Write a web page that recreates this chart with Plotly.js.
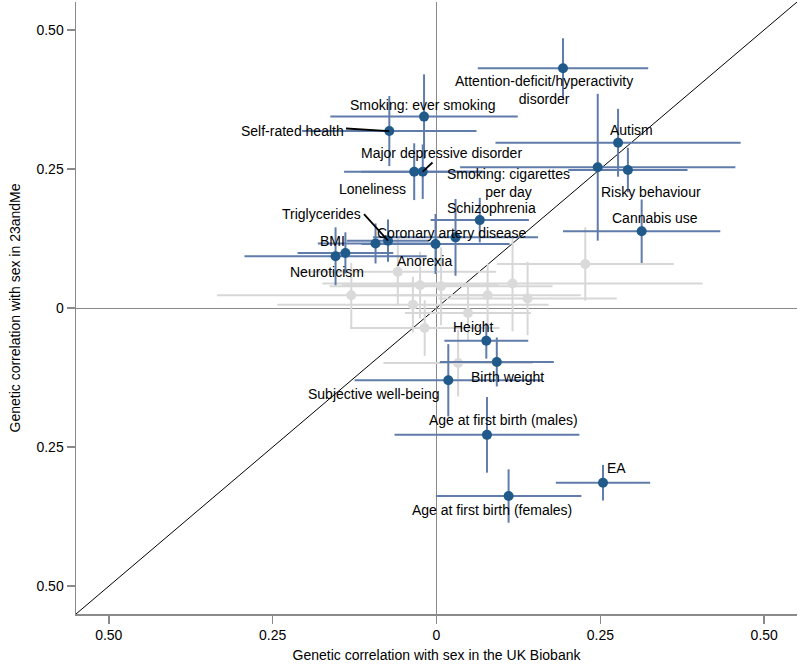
<!DOCTYPE html>
<html>
<head>
<meta charset="utf-8">
<script src="https://cdn.plot.ly/plotly-3.0.1.min.js"></script>
<style>html,body{margin:0;padding:0;background:#fff;}#chart{width:800px;height:665px;}</style>
</head>
<body>
<div id="chart"></div>
<script>
// ---- Highlighted (significant) traits ----
const traitNames = ["ADHD","Smoking: ever smoking","Self-rated health","Major depressive disorder","Loneliness",
  "Smoking: cigarettes per day","Autism","Risky behaviour","Cannabis use","Schizophrenia",
  "Coronary artery disease","Anorexia","Triglycerides","Other trait","BMI","Neuroticism",
  "Height","Birth weight","Subjective well-being","Age at first birth (males)","Age at first birth (females)","EA"];
const ukbCorr  = [0.193,-0.019,-0.072,-0.021,-0.034, 0.246,0.277,0.292,0.313,0.066, 0.029,-0.0015,-0.074,-0.093,-0.139,-0.154, 0.076,0.092,0.018,0.077,0.110,0.254];
const meCorr   = [0.431,0.344,0.318,0.245,0.245, 0.253,0.297,0.248,0.138,0.158, 0.127,0.115,0.121,0.116,0.099,0.093, -0.059,-0.097,-0.130,-0.228,-0.338,-0.314];
const ukbErr   = [0.130,0.143,0.133,0.094,0.107, 0.210,0.187,0.091,0.120,0.075, 0.126,0.113,0.063,0.088,0.073,0.139, 0.064,0.087,0.143,0.141,0.111,0.072];
const meErr    = [0.054,0.076,0.063,0.049,0.051, 0.132,0.061,0.040,0.057,0.040, 0.069,0.054,0.038,0.036,0.037,0.052, 0.032,0.044,0.065,0.068,0.048,0.032];

// ---- Non-significant traits (grey) ----
const greyUkb    = [-0.130,-0.059,-0.025,0.007,0.078,0.116,0.139,-0.036,-0.018,0.048,0.033,0.227];
const greyMe     = [0.023,0.065,0.041,0.039,0.023,0.044,0.017,0.006,-0.036,-0.009,-0.099,0.079];
const greyUkbErr = [0.205,0.150,0.120,0.170,0.142,0.290,0.136,0.207,0.114,0.096,0.114,0.135];
const greyMeErr  = [0.058,0.060,0.060,0.070,0.057,0.086,0.066,0.050,0.050,0.050,0.060,0.066];

// ---- Tick labels ----
const tickVals = [-0.5,-0.25,0,0.25,0.5];
const tickText = ["0.50","0.25","0","0.25","0.50"];

// ---- Label text and placement (layout) ----
const labelText = ["Attention-deficit/hyperactivity<br>disorder","Smoking: ever smoking","Self-rated health",
  "Major depressive disorder","Loneliness","Smoking: cigarettes<br>per day","Schizophrenia","Autism",
  "Risky behaviour","Cannabis use","Triglycerides","Coronary artery disease","BMI","Neuroticism","Anorexia",
  "Height","Birth weight","Subjective well-being","Age at first birth (males)","Age at first birth (females)","EA"];
const labelX = [0.1635,-0.0206,-0.2197,0.0079,-0.0969,0.1095,0.0842,0.2978,0.3269,0.3329,-0.1751,0.0236,-0.1587,-0.1667,-0.0183,
  0.0569,0.1088,-0.0958,0.1017,0.0842,0.2751];
const labelY = [0.3927,0.3648,0.3187,0.278,0.2144,0.2245,0.180,0.3199,0.209,0.1612,0.1684,0.1353,0.121,0.0642,0.085,
  -0.0336,-0.1246,-0.1551,-0.2013,-0.363,-0.287];

// leader lines: from label edge to the trait's point (index into trait arrays)
const leaderTrait = [2,3,12];
const leaderX0 = [-0.1381,-0.0061,-0.1106];
const leaderY0 = [0.3226,0.2615,0.1689];

const font = "Arial, 'Liberation Sans', Helvetica, sans-serif";

const greyTrace = {
  type:'scatter', mode:'markers', x:greyUkb, y:greyMe, hoverinfo:'skip',
  marker:{color:'#dadada', size:10},
  error_x:{type:'data', array:greyUkbErr, visible:true, width:0, thickness:2, color:'#d7d7d7'},
  error_y:{type:'data', array:greyMeErr, visible:true, width:0, thickness:2, color:'#d7d7d7'},
  showlegend:false
};
const mainTrace = {
  type:'scatter', mode:'markers', x:ukbCorr, y:meCorr, text:traitNames,
  marker:{color:'#1f5a8a', size:10},
  error_x:{type:'data', array:ukbErr, visible:true, width:0, thickness:2, color:'#5f7cab'},
  error_y:{type:'data', array:meErr, visible:true, width:0, thickness:2, color:'#5f7cab'},
  showlegend:false
};

const annotations = labelText.map((t,i)=>({
  x:labelX[i], y:labelY[i], xref:'x', yref:'y', text:t, showarrow:false,
  font:{family:font, size:14, color:'#000'}, xanchor:'center', yanchor:'middle'
}));

const shapes = [
  {type:'line', xref:'x', yref:'y', x0:-0.55, y0:-0.55, x1:0.55, y1:0.55, line:{color:'#000', width:1}, layer:'below'}
].concat(leaderTrait.map((k,i)=>({
  type:'line', xref:'x', yref:'y', x0:leaderX0[i], y0:leaderY0[i], x1:ukbCorr[k], y1:meCorr[k],
  line:{color:'#000', width:1.8}, layer:'above'
})));

const axisCommon = {
  range:[-0.55,0.55], tickvals:tickVals, ticktext:tickText, showgrid:false,
  zeroline:true, zerolinecolor:'#8a8a8a', zerolinewidth:1,
  showline:true, linecolor:'#8a8a8a', linewidth:1.5,
  ticks:'outside', ticklen:8, tickcolor:'#8a8a8a', tickwidth:1.5,
  tickfont:{family:font, size:14, color:'#000'}, fixedrange:true
};

const layout = {
  width:800, height:665,
  margin:{l:76, r:3, t:2, b:51},
  paper_bgcolor:'#fff', plot_bgcolor:'#fff',
  xaxis:Object.assign({}, axisCommon, {title:{text:'Genetic correlation with sex in the UK Biobank', font:{family:font, size:14, color:'#000'}, standoff:8}}),
  yaxis:Object.assign({}, axisCommon, {title:{text:'Genetic correlation with sex in 23andMe', font:{family:font, size:14, color:'#000'}, standoff:12}}),
  annotations:annotations,
  shapes:shapes,
  showlegend:false
};

Plotly.newPlot('chart', [greyTrace, mainTrace], layout, {displayModeBar:false, staticPlot:true});
</script>
</body>
</html>
